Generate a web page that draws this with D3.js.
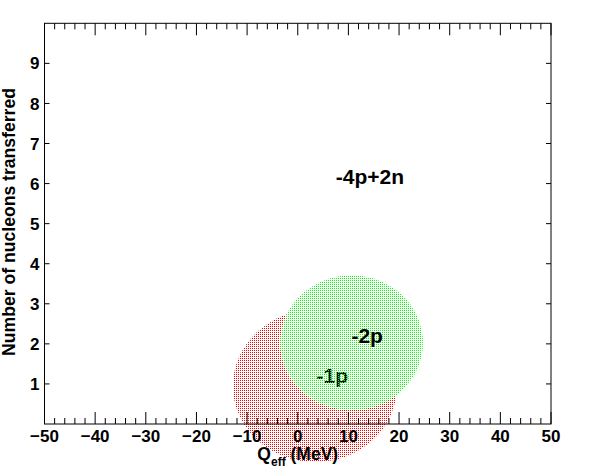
<!DOCTYPE html>
<html>
<head>
<meta charset="utf-8">
<script src="https://cdn.jsdelivr.net/npm/d3@7"></script>
<style>
  html, body { margin: 0; padding: 0; background: #fff; }
  svg { display: block; font-family: "Liberation Sans", Arial, sans-serif; font-weight: bold; }
</style>
</head>
<body>
<div id="chart"></div>
<script>
// axis ranges and ticks
const xDomain = [-50, 50];
const yDomain = [0, 10];
const xMajor = d3.range(-50, 51, 10);
const xMinor = d3.range(-50, 51, 2);
const yMajor = d3.range(1, 10, 1);

// ellipses (centre and half-widths, in data units)
const ellNames = ["-1p", "-2p"];
const ellQ = [3.4, 10.6];
const ellN = [0.95, 2.03];
const ellQRad = [16.2, 14.1];
const ellNRad = [1.9, 1.68];

// text labels
const labText = ["-1p", "-2p", "-4p+2n"];
const labQ = [3.7, 10.6, 7.5];
const labN = [1.02, 2.02, 5.99];

const colors = { "-1p": "#ff0000", "-2p": "#00ff00" };

const W = 596, H = 472, m = { l: 44.5, r: 45, t: 23.3, b: 48 };
const x = d3.scaleLinear().domain(xDomain).range([m.l, W - m.r]);
const y = d3.scaleLinear().domain(yDomain).range([H - m.b, m.t]);

const svg = d3.select("#chart").append("svg").attr("width", W).attr("height", H);
const defs = svg.append("defs");
ellNames.forEach((n, i) => {
  const p = defs.append("pattern").attr("id", "dots" + i).attr("patternUnits", "userSpaceOnUse")
    .attr("width", 2).attr("height", 2);
  p.append("rect").attr("x", 0).attr("y", 0).attr("width", 1).attr("height", 1).attr("fill", colors[n]);
});

const drawEll = (i) => svg.append("ellipse")
  .attr("cx", x(ellQ[i])).attr("cy", y(ellN[i]))
  .attr("rx", x(ellQ[i] + ellQRad[i]) - x(ellQ[i]))
  .attr("ry", y(ellN[i]) - y(ellN[i] + ellNRad[i]))
  .attr("fill", `url(#dots${i})`);
const drawLab = (i) => svg.append("text").attr("x", x(labQ[i])).attr("y", y(labN[i]))
  .attr("font-size", 21).attr("fill", "#000").text(labText[i]);

// order matters: -1p label sits under the green fill
drawEll(0);
drawLab(0);
drawEll(1);
drawLab(1);
drawLab(2);

// frame
const x0 = x(xDomain[0]), x1 = x(xDomain[1]), y0 = y(yDomain[0]), y1 = y(yDomain[1]);
svg.append("rect").attr("x", x0).attr("y", y1).attr("width", x1 - x0).attr("height", y0 - y1)
  .attr("fill", "none").attr("stroke", "#000").attr("stroke-width", 1);

// x ticks (bottom and top, pointing inward)
const tk = svg.append("g").attr("stroke", "#000").attr("stroke-width", 1);
xMinor.forEach((v) => {
  const len = v % 10 === 0 ? 12 : 6;
  tk.append("line").attr("x1", x(v)).attr("x2", x(v)).attr("y1", y0).attr("y2", y0 - len);
  tk.append("line").attr("x1", x(v)).attr("x2", x(v)).attr("y1", y1).attr("y2", y1 + len);
});
yMajor.forEach((v) => {
  tk.append("line").attr("x1", x0).attr("x2", x0 + 5).attr("y1", y(v)).attr("y2", y(v));
  tk.append("line").attr("x1", x1).attr("x2", x1 - 5).attr("y1", y(v)).attr("y2", y(v));
});

// tick labels
const fmt = d3.format("d");
svg.append("g").selectAll("text").data(xMajor).join("text")
  .attr("x", (d) => x(d)).attr("y", y0 + 18).attr("text-anchor", "middle")
  .attr("font-size", 17).text((d) => fmt(d));
svg.append("g").selectAll("text").data(yMajor).join("text")
  .attr("x", x0 - 5).attr("y", (d) => y(d)).attr("dy", "0.36em").attr("text-anchor", "end")
  .attr("font-size", 17).text((d) => fmt(d));

// axis titles
const xt = svg.append("text").attr("x", x(0)).attr("y", 460).attr("text-anchor", "middle").attr("font-size", 17.5);
xt.append("tspan").text("Q");
xt.append("tspan").attr("font-size", 12).attr("dy", 6).text("eff");
xt.append("tspan").attr("dy", -6).text(" (MeV)");

svg.append("text").attr("transform", "translate(15,88) rotate(-90)")
  .attr("text-anchor", "end").attr("font-size", 17.6).text("Number of nucleons transferred");
</script>
</body>
</html>
